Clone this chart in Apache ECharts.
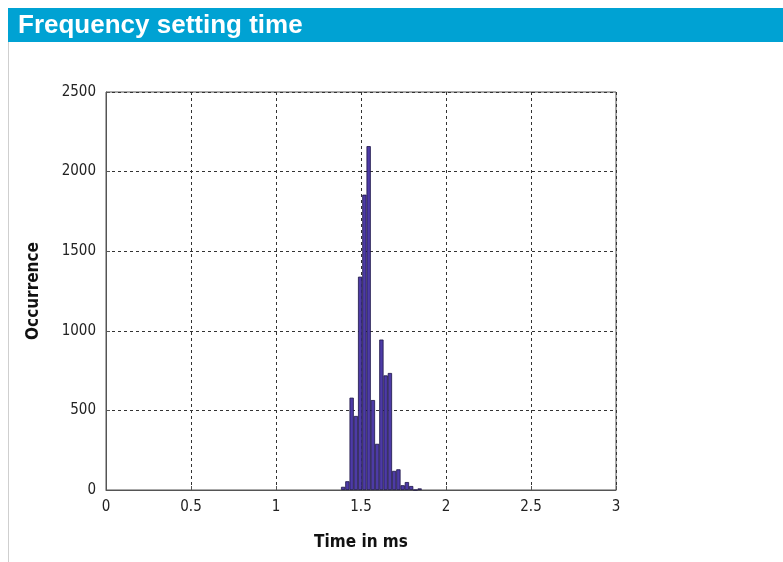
<!DOCTYPE html>
<html>
<head>
<meta charset="utf-8">
<title>Frequency setting time</title>
<script src="https://cdn.jsdelivr.net/npm/echarts@6/dist/echarts.min.js"></script>
<style>
  html, body { margin: 0; padding: 0; background: #fff; }
  #chart { width: 783px; height: 562px; }
</style>
</head>
<body>
<div id="chart"></div>
<script>
// histogram bins (centre of each 0.025 ms bin) and counts
const binCenters = [1.395, 1.42, 1.445, 1.47, 1.495, 1.52, 1.545, 1.57, 1.595, 1.62,
  1.645, 1.67, 1.695, 1.72, 1.745, 1.77, 1.795, 1.82, 1.845];
const counts = [20, 55, 580, 465, 1340, 1855, 2160, 565, 290, 945,
  720, 735, 120, 130, 30, 50, 25, 0, 10];
const xTicks = [0, 0.5, 1, 1.5, 2, 2.5, 3];
const yTicks = [0, 500, 1000, 1500, 2000, 2500];

const narrow = '"Liberation Sans Narrow", "DejaVu Sans Condensed", sans-serif';

const chart = echarts.init(document.getElementById('chart'));

chart.setOption({
  animation: false,
  backgroundColor: '#fff',
  graphic: [
    // blue header band
    { type: 'rect', left: 8, top: 8, shape: { width: 775, height: 34 }, style: { fill: '#00a2d3' } },
    { type: 'text', left: 18, top: 13, style: { text: 'Frequency setting time', fill: '#fff', font: 'bold 26px "Liberation Sans", Arial, sans-serif' } },
    // thin left frame line
    { type: 'line', shape: { x1: 8.5, y1: 42, x2: 8.5, y2: 562 }, style: { stroke: '#cfcfcf', lineWidth: 1 } }
  ],
  grid: {
    left: 106, right: 167, top: 92, bottom: 72,
    show: true, borderColor: '#555', borderWidth: 1, backgroundColor: 'transparent'
  },
  xAxis: {
    type: 'value',
    min: xTicks[0], max: xTicks[xTicks.length - 1], interval: 0.5,
    name: 'Time in ms', nameLocation: 'middle', nameGap: 44,
    nameTextStyle: { fontFamily: narrow, fontWeight: 'bold', fontSize: 17, color: '#111' },
    axisLine: { show: true, lineStyle: { color: '#555' } },
    axisTick: { show: true, inside: true, length: 4, lineStyle: { color: '#555' } },
    axisLabel: {
      fontFamily: narrow, fontSize: 15, color: '#222', margin: 10,
      formatter: v => xTicks.includes(v) ? String(v) : ''
    },
    splitLine: { show: true, lineStyle: { color: '#333', type: [3, 3], width: 1 } }
  },
  yAxis: {
    type: 'value',
    min: yTicks[0], max: yTicks[yTicks.length - 1], interval: 500,
    name: 'Occurrence', nameLocation: 'middle', nameGap: 64, nameRotate: 90,
    nameTextStyle: { fontFamily: narrow, fontWeight: 'bold', fontSize: 17, color: '#111' },
    axisLine: { show: true, lineStyle: { color: '#555' } },
    axisTick: { show: true, inside: true, length: 4, lineStyle: { color: '#555' } },
    axisLabel: {
      fontFamily: narrow, fontSize: 15, color: '#222', margin: 10,
      formatter: v => String(v)
    },
    splitLine: { show: true, lineStyle: { color: '#333', type: [3, 3], width: 1 } }
  },
  series: [
    {
      type: 'bar',
      data: binCenters.map((x, i) => [x, counts[i]]),
      barWidth: 4.3,
      itemStyle: { color: '#4d3ba6', borderColor: '#1c1445', borderWidth: 0.8 }
    }
  ]
});
</script>
</body>
</html>
